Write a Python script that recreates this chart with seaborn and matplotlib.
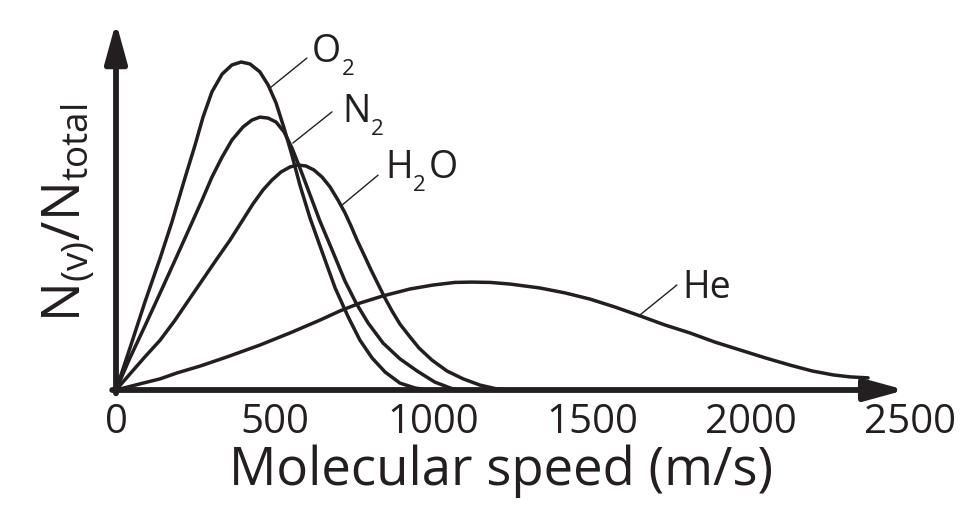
import pandas as pd
import seaborn as sns
import matplotlib.pyplot as plt

# speeds (m/s) and relative N(v)/N_total (O2 peak ~ 1)
o2_speed = [0, 47, 91, 139, 176, 217, 249, 274, 302, 334, 365, 394, 422, 453, 479, 504, 529,
            554, 579, 611, 649, 690, 731, 768, 806, 847, 894, 942, 982]
o2_frac = [0, 0.137, 0.268, 0.402, 0.512, 0.646, 0.747, 0.832, 0.909, 0.963, 0.991, 1.0, 0.994,
           0.970, 0.930, 0.875, 0.799, 0.716, 0.625, 0.524, 0.421, 0.311, 0.223, 0.152, 0.098,
           0.055, 0.021, 0.006, 0]

n2_speed = [0, 44, 91, 139, 186, 233, 271, 302, 334, 365, 400, 428, 453, 479, 504, 529, 554,
            579, 611, 642, 683, 721, 756, 794, 841, 894, 948, 1004, 1061, 1083]
n2_frac = [0, 0.098, 0.195, 0.296, 0.396, 0.497, 0.579, 0.649, 0.710, 0.762, 0.802, 0.823,
           0.832, 0.829, 0.817, 0.787, 0.738, 0.677, 0.595, 0.515, 0.421, 0.332, 0.265, 0.204,
           0.143, 0.095, 0.058, 0.024, 0.003, 0]

h2o_speed = [0, 44, 91, 139, 186, 233, 274, 315, 359, 397, 431, 463, 491, 520, 548, 573, 598,
             623, 649, 674, 699, 721, 740, 759, 781, 803, 825, 847, 869, 894, 923, 954, 995,
             1042, 1093, 1146, 1200, 1241]
h2o_frac = [0, 0.049, 0.101, 0.152, 0.213, 0.280, 0.338, 0.396, 0.457, 0.515, 0.567, 0.610,
            0.640, 0.665, 0.680, 0.686, 0.683, 0.671, 0.649, 0.619, 0.579, 0.540, 0.500, 0.457,
            0.412, 0.366, 0.323, 0.280, 0.241, 0.201, 0.165, 0.128, 0.091, 0.058, 0.034, 0.015,
            0.003, 0]

he_speed = [0, 85, 139, 192, 265, 350, 453, 548, 642, 705, 768, 841, 926, 998, 1067, 1121,
            1178, 1241, 1335, 1414, 1493, 1571, 1650, 1729, 1807, 1886, 1965, 2044, 2122, 2192,
            2258, 2311, 2368]
he_frac = [0, 0.021, 0.034, 0.052, 0.073, 0.101, 0.137, 0.174, 0.213, 0.241, 0.265, 0.287,
           0.308, 0.320, 0.328, 0.329, 0.328, 0.323, 0.311, 0.296, 0.277, 0.253, 0.226, 0.198,
           0.174, 0.146, 0.122, 0.098, 0.076, 0.058, 0.046, 0.040, 0.037]

gases = ["O2", "N2", "H2O", "He"]
# label pieces: (main text, subscript, text after subscript)
gas_parts = [("O", "2", ""), ("N", "2", ""), ("H", "2", "O"), ("He", "", "")]
speed_ticks = [0, 500, 1000, 1500, 2000, 2500]

df = pd.concat([
    pd.DataFrame({"speed": o2_speed, "frac": o2_frac, "gas": gases[0]}),
    pd.DataFrame({"speed": n2_speed, "frac": n2_frac, "gas": gases[1]}),
    pd.DataFrame({"speed": h2o_speed, "frac": h2o_frac, "gas": gases[2]}),
    pd.DataFrame({"speed": he_speed, "frac": he_frac, "gas": gases[3]}),
])

sns.set_theme(style="white")
plt.rcParams["font.family"] = ["Open Sans", "DejaVu Sans"]
plt.rcParams["mathtext.default"] = "regular"
ink = "#231f20"

fig = plt.figure(figsize=(9.79, 5.29), dpi=100)
ax = fig.add_axes([116 / 979, 1 - 390 / 529, 794 / 979, 368 / 529])

sns.lineplot(data=df, x="speed", y="frac", hue="gas", palette=[ink] * 4, estimator=None,
             legend=False, linewidth=2.5, ax=ax)

ax.set_xlim(0, 2500)
ax.set_ylim(0, 1.122)
sns.despine(ax=ax, left=True, bottom=True)

# axis arrows
arrow = dict(arrowstyle="-|>,head_length=0.8,head_width=0.22", mutation_scale=30,
             lw=4.2, color=ink, shrinkA=0, shrinkB=0)
ax.annotate("", xy=(2485, 0), xytext=(-12, 0), arrowprops=arrow, annotation_clip=False)
ax.annotate("", xy=(0, 1.122), xytext=(0, -0.01), arrowprops=arrow, annotation_clip=False)

# curve labels with leader lines
leaders = [((485, 0.921), (601, 1.012)), ((557, 0.753), (680, 0.848)),
           ((712, 0.564), (825, 0.655)), ((1650, 0.229), (1766, 0.320))]
label_pos = [(617, 1.0), (712, 0.817), (847, 0.646), (1782, 0.28)]
for (main, sub, tail), (p0, p1), (tx, ty) in zip(gas_parts, leaders, label_pos):
    ax.plot([p0[0], p1[0]], [p0[1], p1[1]], color=ink, lw=1.0)
    t_main = ax.text(tx, ty, main, fontsize=27, color=ink, ha="left", va="baseline")
    if sub:
        t_sub = ax.annotate(sub, xy=(1, 0), xycoords=t_main, xytext=(0.5, -3),
                            textcoords="offset points", fontsize=16, color=ink,
                            ha="left", va="baseline")
        if tail:
            ax.annotate(tail, xy=(1, 0), xycoords=(t_sub, t_main), xytext=(2, 0),
                        textcoords="offset points", fontsize=27, color=ink,
                        ha="left", va="bottom")

ax.set_xticks(speed_ticks)
ax.set_xticklabels([str(t) for t in speed_ticks])
ax.set_yticks([])
ax.tick_params(axis="x", length=0, pad=9, labelsize=29, labelcolor=ink)

ax.set_xlabel("Molecular speed (m/s)", fontsize=38, color=ink)
ax.xaxis.set_label_coords(0.485, -0.149)
ax.set_ylabel("N$_{(v)}$/N$_{total}$", fontsize=38, color=ink)
ax.yaxis.set_label_coords(-0.024, 0.481)

fig.savefig("out.png", dpi=100, facecolor="white")
